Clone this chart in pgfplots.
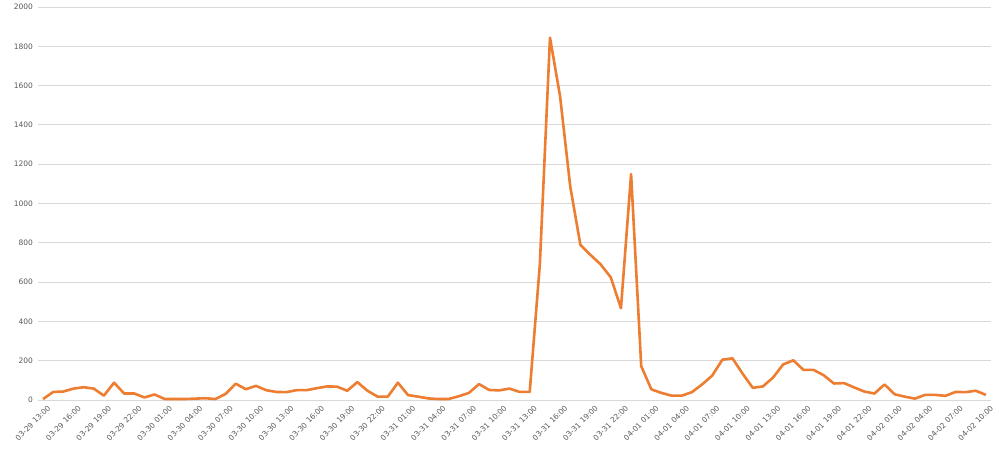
\documentclass[border=0pt]{standalone}
\usepackage{fontspec}
\setmainfont{DejaVu Sans}
\usepackage{pgfplots}
\usepackage{pgfplotstable}
\pgfplotsset{compat=1.18}
\definecolor{lineorange}{HTML}{ED7D31}
\definecolor{gridgray}{HTML}{D9D9D9}
\definecolor{textgray}{HTML}{595959}
\pgfplotstableread{
i v
0 5
1 41
2 43
3 58
4 65
5 58
6 22
7 88
8 33
9 33
10 13
11 28
12 5
13 5
14 5
15 7
16 9
17 5
18 31
19 83
20 55
21 72
22 50
23 41
24 40
25 50
26 50
27 60
28 69
29 68
30 47
31 91
32 47
33 17
34 17
35 88
36 25
37 17
38 8
39 5
40 5
41 19
42 36
43 81
44 51
45 49
46 58
47 41
48 41
49 690
50 1844
51 1544
52 1086
53 789
54 738
55 690
56 624
57 467
58 1150
59 172
60 54
61 36
62 22
63 22
64 40
65 79
66 124
67 205
68 212
69 134
70 62
71 69
72 114
73 181
74 202
75 153
76 153
77 126
78 84
79 86
80 64
81 43
82 33
83 79
84 29
85 17
86 7
87 26
88 26
89 21
90 41
91 40
92 47
93 26
}\datatable
\begin{document}
\begin{tikzpicture}
\begin{axis}[
  at={(38pt,52pt)}, anchor=south west,
  scale only axis,
  width=953pt, height=393pt,
  xmin=-0.5, xmax=93.5,
  ymin=0, ymax=2000,
  ytick={0,200,...,2000},
  xtick={0,3,...,93},
  xticklabels={03-29 13:00,03-29 16:00,03-29 19:00,03-29 22:00,03-30 01:00,03-30 04:00,03-30 07:00,03-30 10:00,03-30 13:00,03-30 16:00,03-30 19:00,03-30 22:00,03-31 01:00,03-31 04:00,03-31 07:00,03-31 10:00,03-31 13:00,03-31 16:00,03-31 19:00,03-31 22:00,04-01 01:00,04-01 04:00,04-01 07:00,04-01 10:00,04-01 13:00,04-01 16:00,04-01 19:00,04-01 22:00,04-02 01:00,04-02 04:00,04-02 07:00,04-02 10:00},
  axis line style={draw=none},
  major tick length=0pt,
  ymajorgrids,
  grid style={gridgray, line width=0.8pt},
  yticklabel style={font=\fontsize{7.5}{9}\selectfont, text=textgray, xshift=-1.5pt},
  xticklabel style={font=\fontsize{7.5}{9}\selectfont, text=textgray, rotate=45, anchor=east, xshift=3pt, yshift=-9pt},
  /pgf/number format/assume math mode=true,
  /pgf/number format/1000 sep={},
  clip=false,
]
\addplot[lineorange, line width=2.6pt, line join=round] table[x=i, y=v] {\datatable};
\end{axis}
\pgfresetboundingbox
\path[use as bounding box] (0,0) rectangle (999pt,452pt);
\end{tikzpicture}
\end{document}
